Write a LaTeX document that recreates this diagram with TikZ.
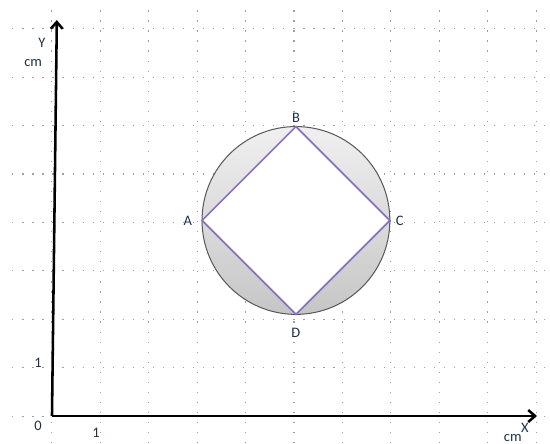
\documentclass[tikz,border=0pt]{standalone}
\usepackage{fontspec}
\setmainfont{Carlito}
\usepackage{xcolor}
\usetikzlibrary{arrows.meta,positioning}

\definecolor{inkblue}{HTML}{1F2F45}
\definecolor{sqpurple}{HTML}{8B72BE}

\begin{document}
\begin{tikzpicture}[
    font=\fontsize{8.5}{10}\selectfont,
    gridline/.style={gray!75, line width=0.6pt, dash pattern=on 0.7pt off 5.2pt},
    axis/.style={-{Straight Barb[length=4pt,width=7pt]}, line width=1.5pt, black},
    lbl/.style={text=inkblue, inner sep=0pt},
    ring/.style={draw=black!65, line width=0.6pt, top color=gray!12, bottom color=gray!45},
    side/.style={draw=sqpurple, line width=1pt},
]
\useasboundingbox (-1.074,-0.558) rectangle (10.289,8.595);

% dotted grid
\foreach \x in {0,...,10}
  \draw[gridline] (\x,-0.56) -- (\x,8.42);
\foreach \y in {0,...,8}
  \draw[gridline] (-0.82,\y) -- (10.25,\y);

% circle and inscribed square
\coordinate (O) at (5.04,4.04);
\coordinate (A) at (3.10,4.04);
\coordinate (B) at (5.04,5.98);
\coordinate (C) at (6.98,4.04);
\coordinate (D) at (5.04,2.10);
\draw[ring] (O) circle (1.94);
\fill[white] (A) -- (B) -- (C) -- (D) -- cycle;
\draw[side] (A) -- (B) -- (C) -- (D) -- cycle;

\node[lbl, left=0.2cm of A] (la) {A};
\node[lbl, above=0.07cm of B] (lb) {B};
\node[lbl, right=0.12cm of C] (lc) {C};
\node[lbl, below=0.28cm of D] (ld) {D};

% axes
\coordinate (org) at (0,0);
\coordinate (ytip) at (0.10,8.18);
\coordinate (xtip) at (10.02,0);
\draw[axis] (org) -- (ytip);
\draw[axis] (org) -- (xtip);

\node[lbl] (ylab) at (-0.21,7.71) {Y};
\node[lbl] (ycm) at (-0.39,7.29) {cm};
\node[lbl] (xlab) at (9.77,-0.25) {X};
\node[lbl] (xcm) at (9.52,-0.45) {cm};
\node[lbl] (zero) at (-0.29,-0.21) {0};
\node[lbl] (yone) at (-0.29,1.10) {1};
\node[lbl] (xone) at (0.91,-0.35) {1};
\end{tikzpicture}
\end{document}
